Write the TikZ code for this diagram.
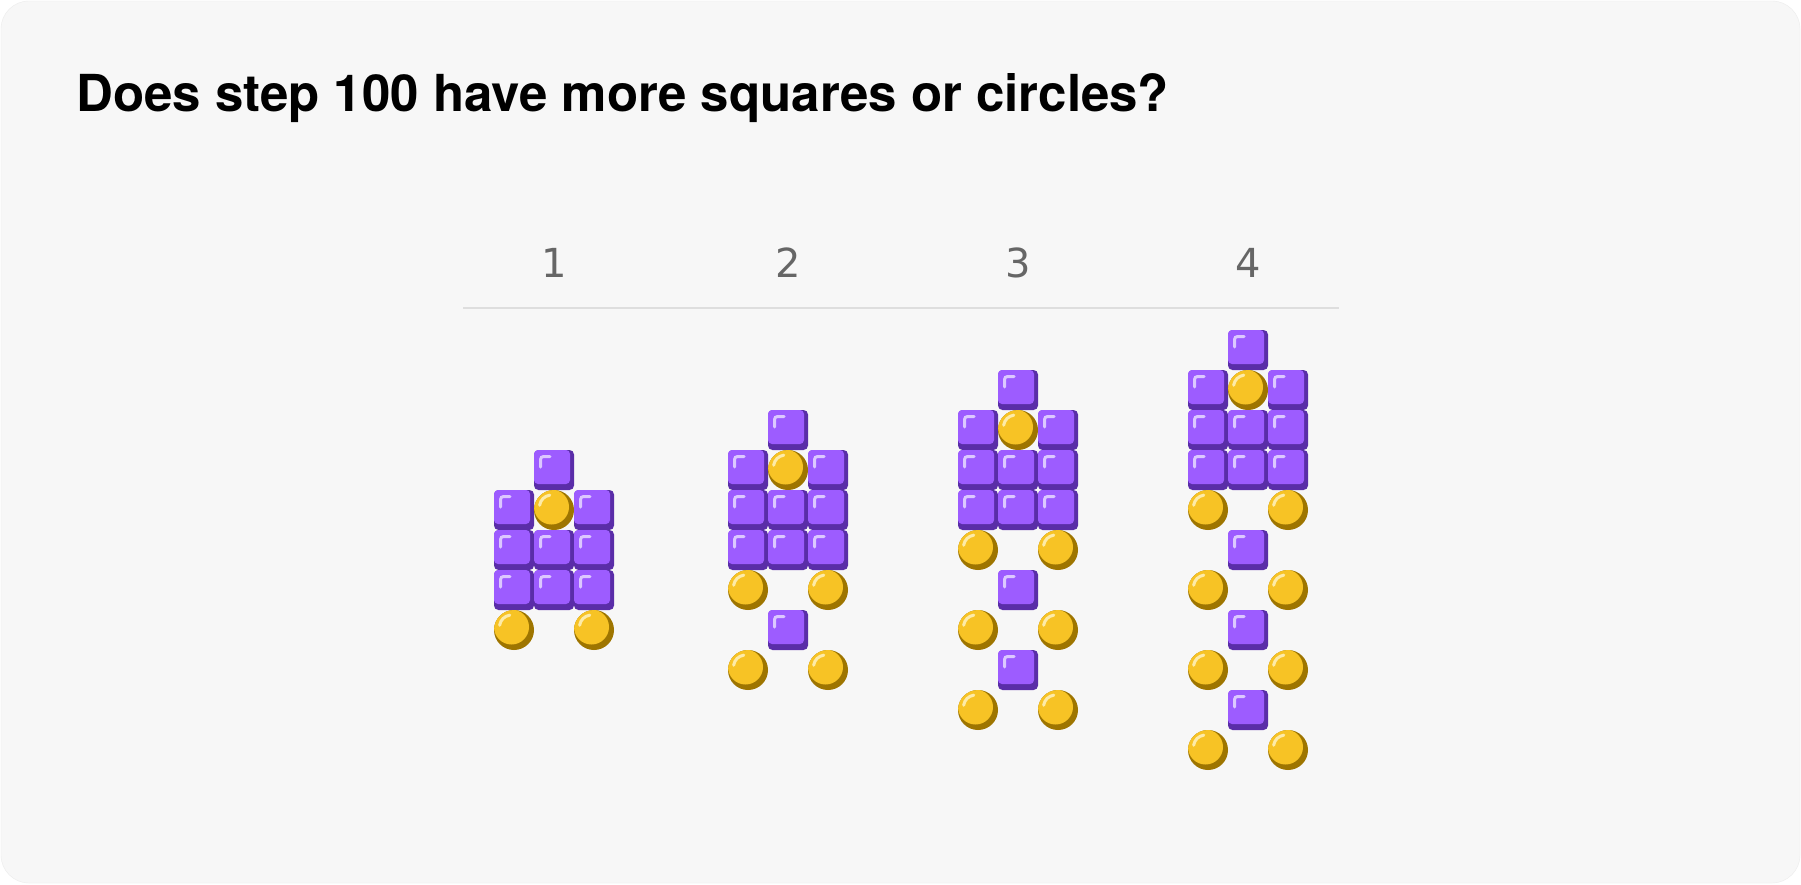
\documentclass[tikz,border=0pt]{standalone}
\usepackage{fontspec}
\setmainfont{TeX Gyre Heros}
\newfontfamily\numfont{DejaVu Sans}
\usetikzlibrary{positioning}
\definecolor{sqface}{HTML}{9D5CFF}
\definecolor{sqdark}{HTML}{5A2DA8}
\definecolor{sqhigh}{HTML}{DCC8FF}
\definecolor{cface}{HTML}{F7C325}
\definecolor{cdark}{HTML}{9E7500}
\definecolor{chigh}{HTML}{FDEBA8}
\definecolor{panel}{HTML}{F7F7F7}
\definecolor{panelline}{HTML}{ECECEC}
\definecolor{rulegray}{HTML}{DEDEDE}
\definecolor{numgray}{HTML}{666666}
\newcommand{\purpsq}[2]{%
  \begin{scope}[shift={(#1,#2)}]
    \fill[sqdark, rounded corners=4.5pt] (-20,-20) rectangle (20,20);
    \fill[sqface, rounded corners=4pt] (-20,-20) rectangle (16,14);
    \draw[sqhigh, line width=3pt, line cap=round, rounded corners=3pt] (-13.5,-3) -- (-13.5,-13.5) -- (-4,-13.5);
  \end{scope}}
\newcommand{\yelcirc}[2]{%
  \begin{scope}[shift={(#1,#2)}]
    \fill[cdark] (0,0) circle (20);
    \begin{scope}
      \clip (0,0) circle (20);
      \fill[cface] (-2.5,-3) circle (17.5);
    \end{scope}
    \draw[chigh, line width=3pt, line cap=round] (-2.5,-3) ++(188:12) arc (188:262:12);
  \end{scope}}
\newcommand{\stepfig}[2]{%
  \pgfmathsetmacro{\ytop}{550-(#2+1)*40}
  \purpsq{#1}{\ytop}
  \purpsq{#1-40}{\ytop+40}
  \purpsq{#1+40}{\ytop+40}
  \yelcirc{#1}{\ytop+40}
  \foreach \r in {2,3} {
    \foreach \c in {-40,0,40} {\purpsq{#1+\c}{\ytop+\r*40}}
  }
  \foreach \j in {1,...,#2} {
    \yelcirc{#1-40}{\ytop+80+\j*80}
    \yelcirc{#1+40}{\ytop+80+\j*80}
    \ifnum\j<#2 \purpsq{#1}{\ytop+120+\j*80}\fi
  }}

\begin{document}
\begin{tikzpicture}[x=1pt, y=-1pt]
	\useasboundingbox (0,0) rectangle (1801,884);
	\fill[white] (0,0) rectangle (1801,884);
	\filldraw[fill=panel, draw=panelline, rounded corners=28pt] (1,1) rectangle (1800,883);
	
	\node[anchor=base west, inner sep=0pt, font=\bfseries\fontsize{51}{60}\selectfont] (question) at (76,111) {Does step 100 have more squares or circles?};
	
	\node[anchor=base, text=numgray, font=\numfont\fontsize{40}{48}\selectfont] (step1) at (554,277) {1};
	\node[anchor=base, text=numgray, font=\numfont\fontsize{40}{48}\selectfont] (step2) at (788,277) {2};
	\node[anchor=base, text=numgray, font=\numfont\fontsize{40}{48}\selectfont] (step3) at (1018,277) {3};
	\node[anchor=base, text=numgray, font=\numfont\fontsize{40}{48}\selectfont] (step4) at (1248,277) {4};
	
	\coordinate (ruleleft) at (463,308);
	\coordinate (ruleright) at (1339,308);
	\draw[rulegray, line width=2pt] (ruleleft) -- (ruleright);
	
	\stepfig{554}{1}
	\stepfig{788}{2}
	\stepfig{1018}{3}
	\stepfig{1248}{4}
\end{tikzpicture}
\end{document}
